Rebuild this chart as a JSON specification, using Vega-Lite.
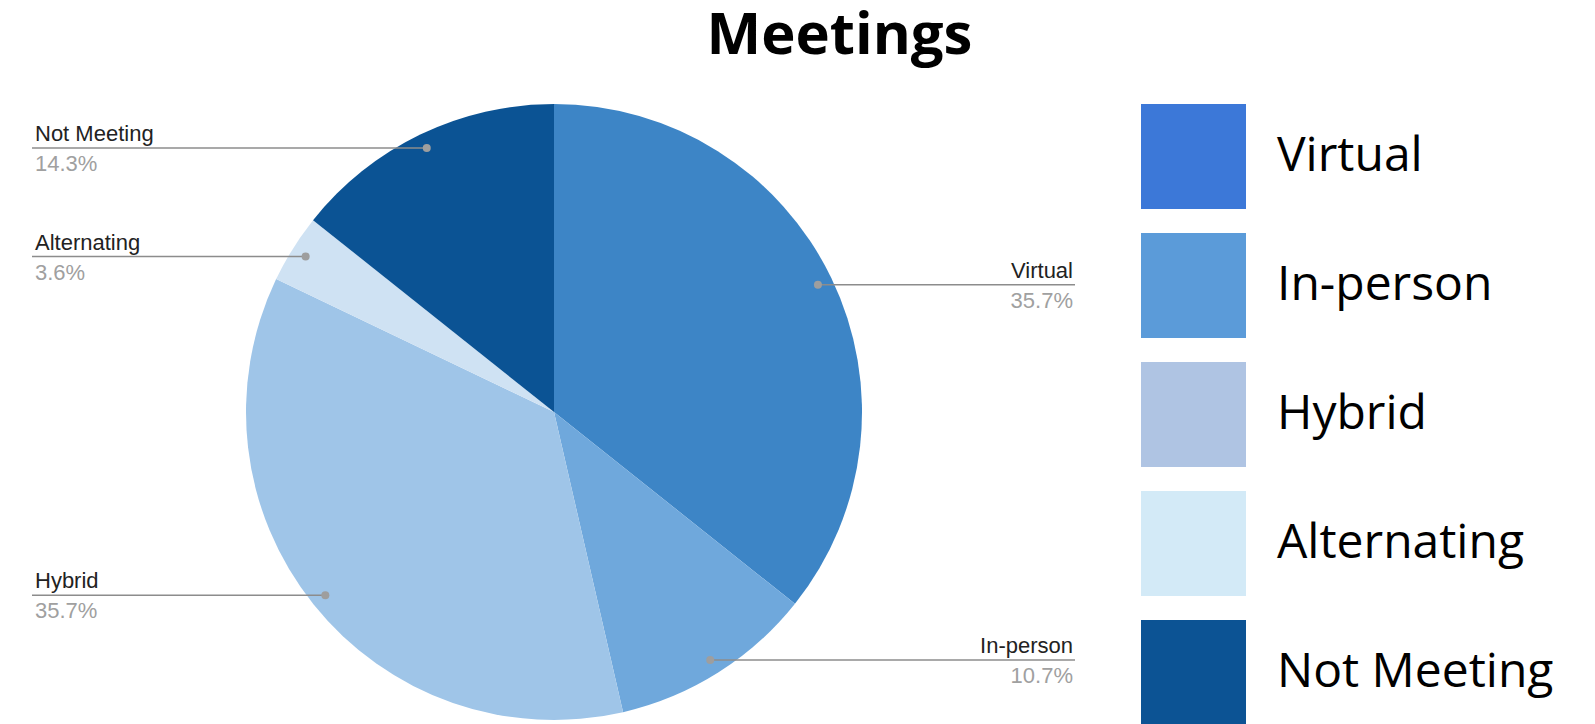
{
  "$schema": "https://vega.github.io/schema/vega-lite/v6.json",
  "width": 1595,
  "height": 724,
  "autosize": {"type": "none"},
  "padding": 0,
  "background": "white",
  "config": {"view": {"stroke": null}},
  "title": {
    "text": "Meetings",
    "font": "Open Sans",
    "fontSize": 58,
    "fontWeight": "bold",
    "color": "#000000",
    "anchor": "middle",
    "frame": "group",
    "dx": 42,
    "dy": 58,
    "offset": -54,
    "baseline": "alphabetic"
  },
  "data": {
    "values": [
      {"i": 1, "cat": "Virtual", "share": 0.357},
      {"i": 2, "cat": "In-person", "share": 0.107},
      {"i": 3, "cat": "Hybrid", "share": 0.357},
      {"i": 4, "cat": "Alternating", "share": 0.036},
      {"i": 5, "cat": "Not Meeting", "share": 0.143}
    ]
  },
  "transform": [
    {"window": [{"op": "sum", "field": "share", "as": "cum"}], "sort": [{"field": "i"}], "frame": [null, 0]},
    {"calculate": "(datum.cum - datum.share / 2) * 2 * PI", "as": "mid"},
    {"calculate": "293 * sin(datum.mid)", "as": "px"},
    {"calculate": "293 * cos(datum.mid)", "as": "py"},
    {"calculate": "datum.px < 0 ? -522 : 521", "as": "edge"},
    {"calculate": "datum.px < 0 ? -519 : 519", "as": "tx"}
  ],
  "layer": [
    {
      "mark": {"type": "arc", "outerRadius": 308, "strokeWidth": 0},
      "encoding": {
        "x": {"datum": 0, "type": "quantitative", "scale": {"domain": [-554, 1041], "nice": false, "zero": false}, "axis": null},
        "y": {"datum": 0, "type": "quantitative", "scale": {"domain": [-312, 412], "nice": false, "zero": false}, "axis": null},
        "theta": {"field": "share", "type": "quantitative", "stack": true},
        "order": {"field": "i", "type": "quantitative"},
        "fill": {
          "field": "cat", "type": "nominal", "legend": null,
          "sort": {"field": "i", "op": "min"},
          "scale": {"range": ["#3d85c6", "#6fa8dc", "#9fc5e8", "#cfe2f3", "#0b5394"]}
        }
      }
    },
    {
      "mark": {"type": "rule", "stroke": "#8c8c8c", "strokeWidth": 1.5},
      "encoding": {
        "x": {"field": "px", "type": "quantitative", "scale": {"domain": [-554, 1041], "nice": false, "zero": false}, "axis": null},
        "x2": {"field": "edge"},
        "y": {"field": "py", "type": "quantitative", "scale": {"domain": [-312, 412], "nice": false, "zero": false}, "axis": null}
      }
    },
    {
      "mark": {"type": "point", "shape": "circle", "filled": true, "fill": "#9e9e9e", "size": 64, "strokeWidth": 0, "opacity": 1},
      "encoding": {
        "x": {"field": "px", "type": "quantitative", "scale": {"domain": [-554, 1041], "nice": false, "zero": false}, "axis": null},
        "y": {"field": "py", "type": "quantitative", "scale": {"domain": [-312, 412], "nice": false, "zero": false}, "axis": null}
      }
    },
    {
      "transform": [{"filter": "datum.px < 0"}],
      "mark": {"type": "text", "align": "left", "baseline": "alphabetic", "dy": -7, "font": "Liberation Sans", "fontSize": 22, "fill": "#222222"},
      "encoding": {
        "x": {"field": "tx", "type": "quantitative", "scale": {"domain": [-554, 1041], "nice": false, "zero": false}, "axis": null},
        "y": {"field": "py", "type": "quantitative", "scale": {"domain": [-312, 412], "nice": false, "zero": false}, "axis": null},
        "text": {"field": "cat"}
      }
    },
    {
      "transform": [{"filter": "datum.px < 0"}],
      "mark": {"type": "text", "align": "left", "baseline": "alphabetic", "dy": 23, "font": "Liberation Sans", "fontSize": 22, "fill": "#a0a0a0"},
      "encoding": {
        "x": {"field": "tx", "type": "quantitative", "scale": {"domain": [-554, 1041], "nice": false, "zero": false}, "axis": null},
        "y": {"field": "py", "type": "quantitative", "scale": {"domain": [-312, 412], "nice": false, "zero": false}, "axis": null},
        "text": {"field": "share", "type": "quantitative", "format": ".1%"}
      }
    },
    {
      "transform": [{"filter": "datum.px >= 0"}],
      "mark": {"type": "text", "align": "right", "baseline": "alphabetic", "dy": -7, "font": "Liberation Sans", "fontSize": 22, "fill": "#222222"},
      "encoding": {
        "x": {"field": "tx", "type": "quantitative", "scale": {"domain": [-554, 1041], "nice": false, "zero": false}, "axis": null},
        "y": {"field": "py", "type": "quantitative", "scale": {"domain": [-312, 412], "nice": false, "zero": false}, "axis": null},
        "text": {"field": "cat"}
      }
    },
    {
      "transform": [{"filter": "datum.px >= 0"}],
      "mark": {"type": "text", "align": "right", "baseline": "alphabetic", "dy": 23, "font": "Liberation Sans", "fontSize": 22, "fill": "#a0a0a0"},
      "encoding": {
        "x": {"field": "tx", "type": "quantitative", "scale": {"domain": [-554, 1041], "nice": false, "zero": false}, "axis": null},
        "y": {"field": "py", "type": "quantitative", "scale": {"domain": [-312, 412], "nice": false, "zero": false}, "axis": null},
        "text": {"field": "share", "type": "quantitative", "format": ".1%"}
      }
    },
    {
      "mark": {"type": "text", "text": ""},
      "encoding": {
        "color": {
          "field": "cat", "type": "nominal",
          "scale": {"domain": ["Virtual", "In-person", "Hybrid", "Alternating", "Not Meeting"], "range": ["#3c78d8", "#5b9bd9", "#afc4e3", "#d3eaf7", "#0c5394"]},
          "legend": {
            "orient": "none",
            "legendX": 1141,
            "legendY": 104,
            "title": null,
            "padding": 0,
            "symbolType": "square",
            "symbolSize": 11025,
            "symbolStrokeWidth": 0,
            "symbolOpacity": 1,
            "labelFont": "Open Sans",
            "labelFontSize": 48,
            "labelColor": "#000000",
            "labelOffset": 31,
            "labelLimit": 500,
            "rowPadding": 24
          }
        }
      }
    }
  ]
}
